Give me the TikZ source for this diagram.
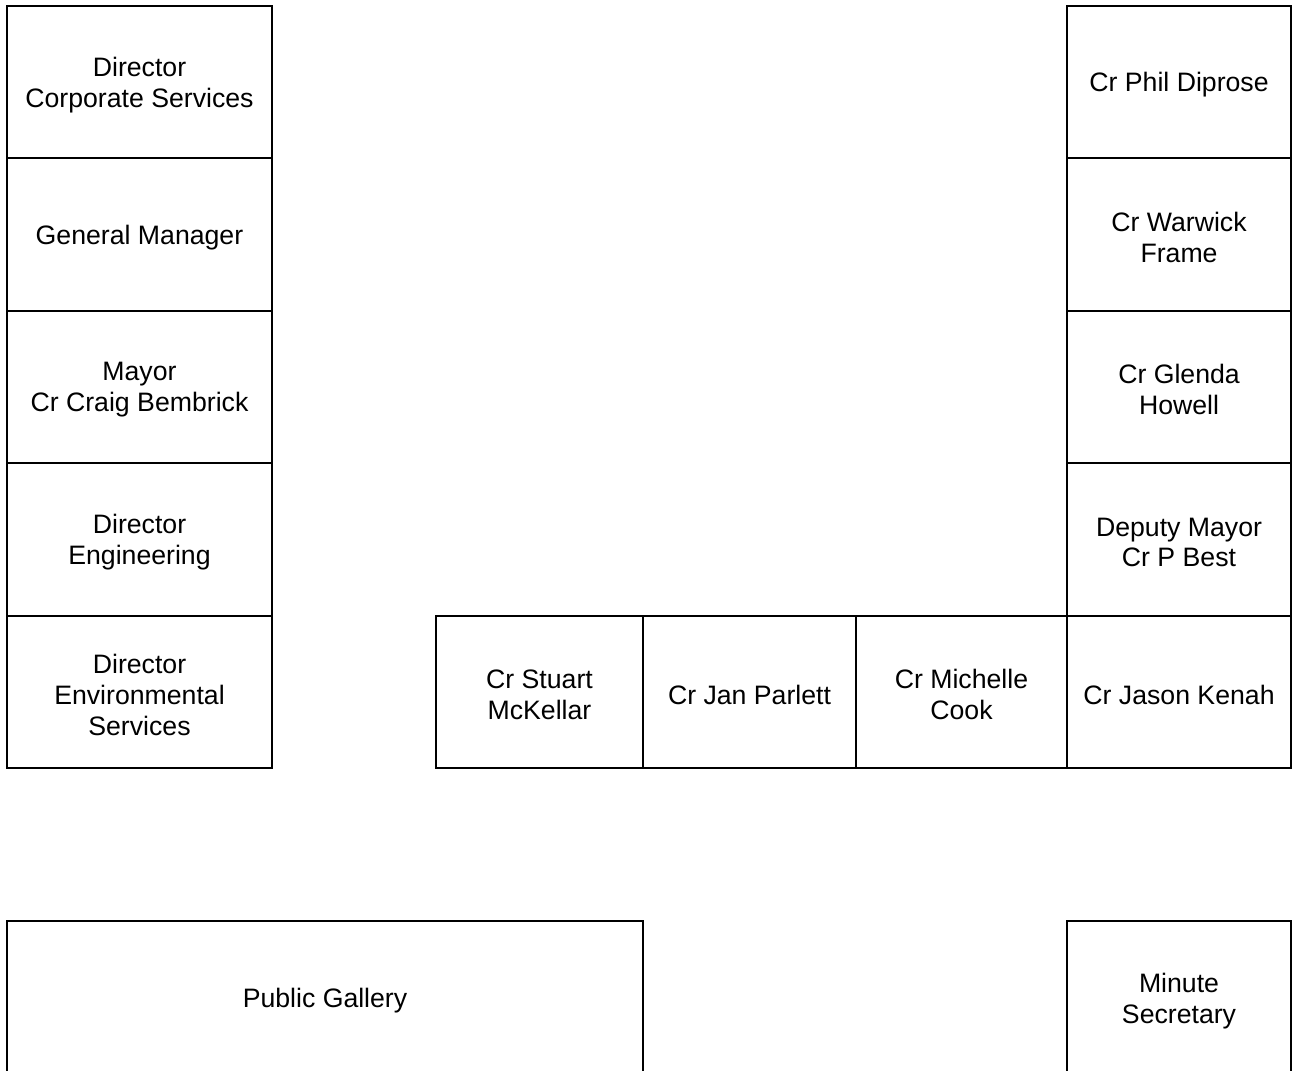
\documentclass[tikz,border=0pt]{standalone}
\usepackage{fontspec}
\setmainfont{Liberation Sans}
\begin{document}
\begin{tikzpicture}[x=0.45pt,y=-0.45pt,
  seat/.style={draw=black,line width=1.0pt},
  lbl/.style={align=center,font=\fontsize{12pt}{13.9pt}\selectfont,inner sep=0pt,yshift=-1.3pt}]
\useasboundingbox (0,0) rectangle (1292,1070);
% left column
\draw[seat] (7,6) rectangle (272,158) node[lbl,midway] (dcs) {Director\\Corporate Services};
\draw[seat] (7,158) rectangle (272,311) node[lbl,midway] (gm) {General Manager};
\draw[seat] (7,311) rectangle (272,463) node[lbl,midway] (mayor) {Mayor\\Cr Craig Bembrick};
\draw[seat] (7,463) rectangle (272,616) node[lbl,midway] (de) {Director\\Engineering};
\draw[seat] (7,616) rectangle (272,768) node[lbl,midway] (des) {Director\\Environmental\\Services};
% right column
\draw[seat] (1067,6) rectangle (1291,158) node[lbl,midway] (pd) {Cr Phil Diprose};
\draw[seat] (1067,158) rectangle (1291,311) node[lbl,midway] (wf) {Cr Warwick\\Frame};
\draw[seat] (1067,311) rectangle (1291,463) node[lbl,midway] (gh) {Cr Glenda\\Howell};
\draw[seat] (1067,463) rectangle (1291,616) node[lbl,midway] (dm) {Deputy Mayor\\Cr P Best};
\draw[seat] (1067,616) rectangle (1291,768) node[lbl,midway] (jk) {Cr Jason Kenah};
% bottom row
\draw[seat] (436,616) rectangle (643,768) node[lbl,midway] (sm) {Cr Stuart\\McKellar};
\draw[seat] (643,616) rectangle (856,768) node[lbl,midway] (jp) {Cr Jan Parlett};
\draw[seat] (856,616) rectangle (1067,768) node[lbl,midway] (mc) {Cr Michelle\\Cook};
% lower boxes (cut by the page edge)
\draw[seat] (7,1075) -- (7,921) -- (643,921) -- (643,1075);
\node[lbl] (pg) at (325,998) {Public Gallery};
\draw[seat] (1067,1075) -- (1067,921) -- (1291,921) -- (1291,1075);
\node[lbl] (ms) at (1179,998) {Minute\\Secretary};
\end{tikzpicture}
\end{document}
